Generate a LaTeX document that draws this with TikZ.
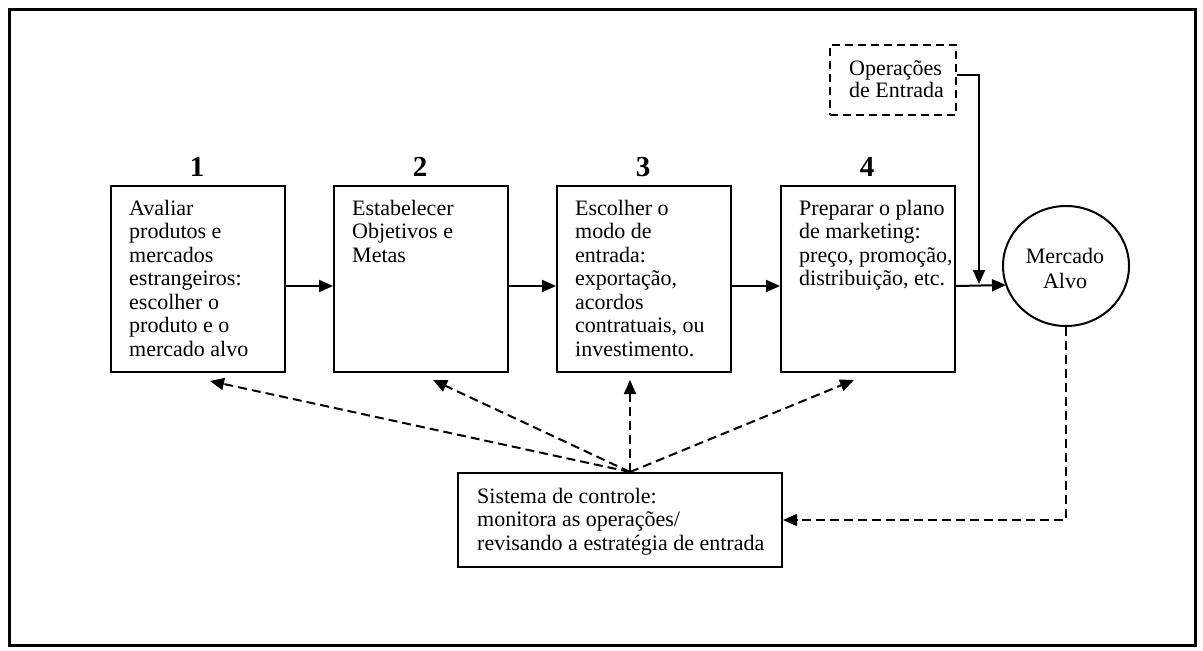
\documentclass[tikz,border=0pt]{standalone}
\usepackage{fontspec}
\setmainfont{Liberation Serif}
\usetikzlibrary{arrows.meta,shapes.geometric,calc}
\begin{document}
\begin{tikzpicture}[x=1pt,y=-1pt,
  stagebox/.style={draw,line width=2pt,minimum width=174pt,minimum height=186pt,inner sep=0pt,anchor=north west},
  boxtext/.style={anchor=north west,inner sep=0pt,align=left,font=\fontsize{22pt}{23.5pt}\selectfont},
  stepnum/.style={inner sep=0pt,font=\fontsize{29pt}{30pt}\selectfont\bfseries},
  flow/.style={line width=2pt,-{Triangle[length=14pt,width=12pt]}},
  feedback/.style={line width=2pt,dash pattern=on 9pt off 5pt,-{Triangle[length=14pt,width=12pt]}}
]
\useasboundingbox (0,0) rectangle (1203,651);
% outer frame
\draw[line width=3pt] (9,9) rectangle (1195,645);

% the four stages
\node[stagebox] (b1) at (110,185) {};
\node[stagebox] (b2) at (333,185) {};
\node[stagebox] (b3) at (556,185) {};
\node[stagebox] (b4) at (780,185) {};

\node[stepnum] (n1) at (197,167) {1};
\node[stepnum] (n2) at (420,167) {2};
\node[stepnum] (n3) at (643,167) {3};
\node[stepnum] (n4) at (867,167) {4};

\node[boxtext] (t1) at ($(b1.north west)+(19,15)$) {Avaliar\\produtos e\\mercados\\estrangeiros:\\escolher o\\produto e o\\mercado alvo};
\node[boxtext] (t2) at ($(b2.north west)+(19,15)$) {Estabelecer\\Objetivos e\\Metas};
\node[boxtext] (t3) at ($(b3.north west)+(19,15)$) {Escolher o\\modo de\\entrada:\\exportação,\\acordos\\contratuais, ou\\investimento.};
\node[boxtext] (t4) at ($(b4.north west)+(19,15)$) {Preparar o plano\\de marketing:\\preço, promoção,\\distribuição, etc.};

% entry operations (dashed) and target market
\node[draw,line width=2pt,dash pattern=on 8pt off 5pt,minimum width=126pt,minimum height=70pt,inner sep=0pt,anchor=north west] (op) at (829,44) {};
\node[boxtext,font=\fontsize{22pt}{22.5pt}\selectfont] (opt) at ($(op.north west)+(20,16)$) {Operações\\de Entrada};

\node[draw,ellipse,line width=2pt,minimum width=126pt,minimum height=120pt,inner sep=0pt] (circ) at (1066,266) {};
\node[align=center,inner sep=0pt,font=\fontsize{22pt}{25pt}\selectfont] (ct) at (1065,268) {Mercado\\Alvo};

% control system
\node[draw,line width=2pt,minimum width=324pt,minimum height=94pt,inner sep=0pt,anchor=north west] (ctl) at (457,472) {};
\node[boxtext] (ctlt) at ($(ctl.north west)+(20,16)$) {Sistema de controle:\\monitora as operações/\\revisando a estratégia de entrada};

% main flow
\draw[flow] ([yshift=-7pt]b1.east) -- ([yshift=-7pt]b2.west);
\draw[flow] ([yshift=-7pt]b2.east) -- ([yshift=-7pt]b3.west);
\draw[flow] ([yshift=-7pt]b3.east) -- ([yshift=-7pt]b4.west);
\coordinate (m4) at ([yshift=-7pt]b4.east);
\coordinate (mc) at (1006,285);
\draw[flow] (m4) -- (mc);
\coordinate (drop) at (979,284);
\draw[flow] ([yshift=5pt]op.east) -| (drop);

% feedback loop
\draw[feedback] (circ.south) |- (ctl.east);
\coordinate (hub) at (630,472);
\coordinate (f1) at (210,381);
\coordinate (f2) at (433,380);
\coordinate (f3) at (630,380);
\coordinate (f4) at (854,380);
\draw[feedback] (hub) -- (f1);
\draw[feedback] (hub) -- (f2);
\draw[feedback] (hub) -- (f3);
\draw[feedback] (hub) -- (f4);
\end{tikzpicture}
\end{document}
